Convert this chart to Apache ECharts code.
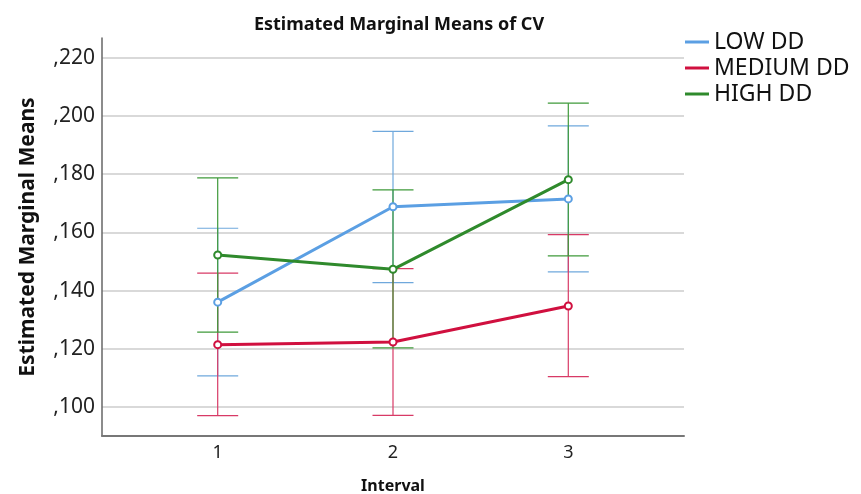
<!DOCTYPE html>
<html>
<head>
<meta charset="utf-8">
<script src="https://cdn.jsdelivr.net/npm/echarts@6/dist/echarts.min.js"></script>
<style>
html,body{margin:0;padding:0;background:#fff;}
#chart{width:861px;height:494px;}
</style>
</head>
<body>
<div id="chart"></div>
<script>
// ---- data ----
const intervals = [1, 2, 3];
const seriesNames = ['LOW DD', 'MEDIUM DD', 'HIGH DD'];
const lowMean = [0.1360, 0.1688, 0.1715];
const lowUpper = [0.1614, 0.1947, 0.1966];
const lowLower = [0.1107, 0.1427, 0.1464];
const mediumMean = [0.1214, 0.1223, 0.1347];
const mediumUpper = [0.1460, 0.1475, 0.1592];
const mediumLower = [0.0970, 0.0971, 0.1104];
const highMean = [0.1522, 0.1473, 0.1781];
const highUpper = [0.1787, 0.1746, 0.2044];
const highLower = [0.1257, 0.1203, 0.1519];
const yTicks = [0.10, 0.12, 0.14, 0.16, 0.18, 0.20, 0.22];
const xTicks = [1, 2, 3];

// ---- styling ----
const lineColors = ['#5b9fe3', '#d0103f', '#2f8a2c'];
const barColors = ['#6fa8dc', '#d83a66', '#3f9a3a'];
const FONT = 'Noto Sans';

const means = [lowMean, mediumMean, highMean];
const uppers = [lowUpper, mediumUpper, highUpper];
const lowers = [lowLower, mediumLower, highLower];

const chart = echarts.init(document.getElementById('chart'), null, {renderer: 'canvas'});

const series = [];
seriesNames.forEach((name, i) => {
  series.push({
    name: name + ' CI',
    type: 'custom',
    silent: true,
    z: 3,
    encode: {x: 0, y: [1, 2]},
    data: intervals.map((x, k) => [x, lowers[i][k], uppers[i][k]]),
    renderItem: function (params, api) {
      const x = api.value(0);
      const lo = api.coord([x, api.value(1)]);
      const hi = api.coord([x, api.value(2)]);
      const half = 20.5;
      const st = {stroke: barColors[i], lineWidth: 1.2};
      return {
        type: 'group',
        children: [
          {type: 'line', shape: {x1: lo[0], y1: lo[1], x2: hi[0], y2: hi[1]}, style: st},
          {type: 'line', shape: {x1: lo[0] - half, y1: lo[1], x2: lo[0] + half, y2: lo[1]}, style: st},
          {type: 'line', shape: {x1: hi[0] - half, y1: hi[1], x2: hi[0] + half, y2: hi[1]}, style: st}
        ]
      };
    }
  });
});
seriesNames.forEach((name, i) => {
  series.push({
    name: name,
    type: 'line',
    z: 4,
    data: intervals.map((x, k) => [x, means[i][k]]),
    symbol: 'emptyCircle',
    symbolSize: 7,
    color: lineColors[i],
    lineStyle: {width: 3, color: lineColors[i]},
    itemStyle: {color: lineColors[i], borderWidth: 1},
    emphasis: {disabled: true}
  });
});

chart.setOption({
  animation: false,
  backgroundColor: '#ffffff',
  title: {
    text: 'Estimated Marginal Means of CV',
    left: 394,
    textAlign: 'center',
    top: 11,
    textStyle: {fontFamily: FONT, fontWeight: 'bold', fontSize: 18, color: '#111'}
  },
  legend: {
    orient: 'vertical',
    left: 680,
    top: 25,
    data: seriesNames,
    icon: 'rect',
    itemWidth: 24,
    itemHeight: 3,
    itemGap: 2,
    textStyle: {fontFamily: FONT, fontSize: 23, color: '#111', lineHeight: 24}
  },
  grid: {left: 102, right: 177, top: 38, bottom: 58, containLabel: false, outerBoundsMode: 'none'},
  xAxis: {
    type: 'value',
    min: 0.34,
    max: 3.66,
    name: 'Interval',
    nameLocation: 'middle',
    nameGap: 42,
    nameTextStyle: {fontFamily: FONT, fontWeight: 'bold', fontSize: 16, color: '#111'},
    axisLine: {show: true, lineStyle: {color: '#777', width: 2}},
    axisTick: {show: false, customValues: xTicks},
    splitLine: {show: false},
    axisLabel: {customValues: xTicks, fontFamily: FONT, fontSize: 18, color: '#222', margin: 8,
      formatter: v => String(Math.round(v))}
  },
  yAxis: {
    type: 'value',
    min: 0.09,
    max: 0.2268,
    name: 'Estimated Marginal Means',
    nameLocation: 'middle',
    nameGap: 63,
    nameTextStyle: {fontFamily: FONT, fontWeight: 'bold', fontSize: 21, color: '#111'},
    axisLine: {show: true, lineStyle: {color: '#666', width: 1.5}},
    axisTick: {show: false, customValues: yTicks},
    splitLine: {show: true, lineStyle: {color: '#cccccc', width: 1.5}},
    axisLabel: {customValues: yTicks, fontFamily: FONT, fontSize: 21, color: '#222', margin: 7,
      formatter: v => v.toFixed(3).replace(/^0\./, ',')}
  },
  series: series
});
</script>
</body>
</html>
